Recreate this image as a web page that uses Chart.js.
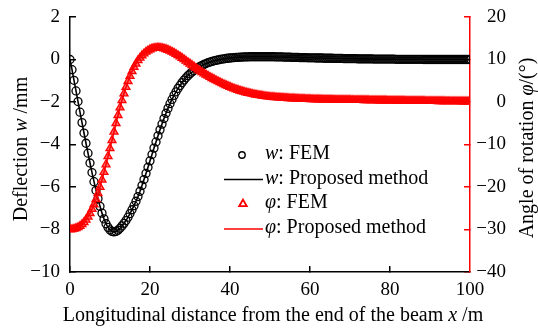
<!DOCTYPE html>
<html>
<head>
<meta charset="utf-8">
<title>Deflection and rotation along the beam</title>
<script src="https://cdn.jsdelivr.net/npm/chart.js@4.4.0/dist/chart.umd.min.js"></script>
<style>
  html, body { margin: 0; padding: 0; background: #fff; }
  #wrap { width: 538px; height: 329px; }
</style>
</head>
<body>
<div id="wrap"><canvas id="beamChart" width="538" height="329"></canvas></div>
<script>
// stations along the beam (m)
const stations = [
  0,0.5,1,1.5,2,2.5,3,3.5,4,4.5,5,5.5,6,6.5,7,7.5,8,8.5,9,9.5,
  10,10.5,11,11.5,12,12.5,13,13.5,14,14.5,15,15.5,16,16.5,17,17.5,18,18.5,19,19.5,
  20,20.5,21,21.5,22,22.5,23,23.5,24,24.5,25,25.5,26,26.5,27,27.5,28,28.5,29,29.5,
  30,30.5,31,31.5,32,32.5,33,33.5,34,34.5,35,35.5,36,36.5,37,37.5,38,38.5,39,39.5,
  40,40.5,41,41.5,42,42.5,43,43.5,44,44.5,45,45.5,46,46.5,47,47.5,48,48.5,49,49.5,
  50,50.5,51,51.5,52,52.5,53,53.5,54,54.5,55,55.5,56,56.5,57,57.5,58,58.5,59,59.5,
  60,60.5,61,61.5,62,62.5,63,63.5,64,64.5,65,65.5,66,66.5,67,67.5,68,68.5,69,69.5,
  70,70.5,71,71.5,72,72.5,73,73.5,74,74.5,75,75.5,76,76.5,77,77.5,78,78.5,79,79.5,
  80,80.5,81,81.5,82,82.5,83,83.5,84,84.5,85,85.5,86,86.5,87,87.5,88,88.5,89,89.5,
  90,90.5,91,91.5,92,92.5,93,93.5,94,94.5,95,95.5,96,96.5,97,97.5,98,98.5,99,99.5,
  100
];

// deflection w (mm)
const deflection = [
  0,-0.48,-0.98,-1.48,-1.98,-2.48,-2.97,-3.46,-3.94,-4.41,
  -4.87,-5.32,-5.75,-6.16,-6.55,-6.91,-7.23,-7.5,-7.73,-7.9,
  -8.02,-8.09,-8.11,-8.09,-8.03,-7.94,-7.83,-7.71,-7.58,-7.42,
  -7.25,-7.07,-6.88,-6.67,-6.45,-6.2,-5.93,-5.65,-5.36,-5.07,
  -4.77,-4.47,-4.17,-3.88,-3.59,-3.31,-3.04,-2.78,-2.53,-2.3,
  -2.08,-1.88,-1.69,-1.52,-1.36,-1.22,-1.09,-0.97,-0.86,-0.76,
  -0.67,-0.59,-0.52,-0.45,-0.39,-0.33,-0.28,-0.23,-0.19,-0.15,
  -0.12,-0.09,-0.06,-0.04,-0.02,0,0.02,0.03,0.05,0.06,
  0.07,
  0.08,0.09,0.1,0.1,0.11,0.11,0.12,0.12,0.12,0.13,
  0.13,0.13,0.13,0.13,0.13,0.13,0.13,0.13,0.13,0.13,
  0.13,0.13,0.12,0.12,0.12,0.12,0.11,0.11,0.11,0.11,
  0.1,0.1,0.1,0.1,0.09,0.09,0.09,0.09,0.08,0.08,
  0.08,0.08,0.07,0.07,0.07,0.07,0.06,0.06,0.06,0.06,
  0.06,0.05,0.05,0.05,0.05,0.05,0.04,0.04,0.04,0.04,
  0.04,0.04,0.04,0.03,0.03,0.03,0.03,0.03,0.03,0.03,
  0.03,0.02,0.02,0.02,0.02,0.02,0.02,0.02,0.02,0.02,
  0.02,0.02,0.01,0.01,0.01,0.01,0.01,0.01,0.01,0.01,
  0.01,0.01,0.01,0.01,0.01,0.01,0,0,0,0,
  0,0,0,0,0,0,0,0,0,0,
  0,0,0,0,0,0,0,0,0,0
];

// angle of rotation phi (degrees)
const rotation = [
  -30,-29.95,-29.85,-29.7,-29.5,-29.2,-28.8,-28.3,-27.7,-27,
  -26.2,-25.2,-24.1,-22.9,-21.5,-20,-18.3,-16.5,-14.7,-12.8,
  -10.9,
  -9,-7,-5,-3.1,-1.3,0.4,2,3.5,4.9,6.1,
  7.2,8.2,9,9.8,10.4,10.95,11.4,11.8,12.1,12.35,
  12.55,12.68,12.75,12.78,12.75,12.68,12.57,12.42,12.24,12.03,
  11.8,11.55,11.27,10.98,10.67,10.35,10.02,9.68,9.34,9,
  8.65,8.3,7.96,7.62,7.32,7,6.7,6.42,6.14,5.87,
  5.6,5.35,5.1,4.86,4.62,4.39,4.16,3.94,3.73,3.53,
  3.34,3.16,2.98,2.82,2.66,2.52,2.38,2.25,2.13,2.02,
  1.91,1.81,1.72,1.63,1.55,1.47,1.4,1.33,1.27,1.21,
  1.17,1.13,1.09,1.05,1.02,0.99,0.96,0.93,0.9,0.87,
  0.84,0.82,0.79,0.77,0.75,0.73,0.71,0.69,0.67,0.66,
  0.64,0.63,0.61,0.6,0.59,0.58,0.57,0.56,0.55,0.54,
  0.53,0.52,0.51,0.5,0.5,0.49,0.48,0.48,0.47,0.47,
  0.46,0.45,0.45,0.44,0.43,0.43,0.42,0.41,0.41,0.4,
  0.39,0.39,0.38,0.37,0.37,0.36,0.35,0.35,0.34,0.33,
  0.33,0.32,0.31,0.31,0.3,0.3,0.29,0.28,0.28,0.27,
  0.27,0.26,0.25,0.25,0.24,0.24,0.23,0.22,0.22,0.21,
  0.21,0.2,0.2,0.19,0.19,0.18,0.18,0.17,0.17,0.16,
  0.16,0.15,0.15,0.14,0.14,0.13,0.13,0.12,0.12,0.12
];

const xTicks = [0, 20, 40, 60, 80, 100];
const wTicks = [2, 0, -2, -4, -6, -8, -10];
const phiTicks = [20, 10, 0, -10, -20, -30, -40];

const seriesLabels = ['w: FEM', 'w: Proposed method', '\u03c6: FEM', '\u03c6: Proposed method'];

const FONT = '"Liberation Serif", "Times New Roman", serif';
const RED = '#ff0000';

const pts = (vals) => stations.map((x, i) => ({ x: x, y: vals[i] }));
const minus = (v) => (v < 0 ? '\u2212' + Math.abs(v) : String(v));
const setTicks = (list) => (scale) => { scale.ticks = list.map((v) => ({ value: v })); };
// fixed axis width; label overhang is handled by the layout padding instead
const fixWidth = (w) => (scale) => {
  scale.width = w;
  scale.paddingTop = 0;
  scale.paddingBottom = 0;
};

// writes a run of text pieces, italic where flagged
function drawRuns(ctx, runs, x, y, size, align) {
  let total = 0;
  runs.forEach((r) => {
    ctx.font = (r[1] ? 'italic ' : '') + size + 'px ' + FONT;
    total += ctx.measureText(r[0]).width;
  });
  let cx = align === 'left' ? x : x - total / 2;
  ctx.textAlign = 'left';
  runs.forEach((r) => {
    ctx.font = (r[1] ? 'italic ' : '') + size + 'px ' + FONT;
    ctx.fillText(r[0], cx, y);
    cx += ctx.measureText(r[0]).width;
  });
}

// split "w: FEM" into an italic symbol and the rest
const symbolRuns = (label) => [[label.charAt(0), true], [label.slice(1), false]];

const annotations = {
  id: 'annotations',
  afterDraw(chart) {
    const ctx = chart.ctx;
    ctx.save();
    ctx.fillStyle = '#000';
    ctx.textBaseline = 'alphabetic';

    // bottom title
    drawRuns(ctx, [['Longitudinal distance from the end of the beam ', false], ['x', true], [' /m', false]],
      273, 321, 20, 'center');

    // left title
    ctx.save();
    ctx.translate(27, 149);
    ctx.rotate(-Math.PI / 2);
    drawRuns(ctx, [['Deflection ', false], ['w', true], [' /mm', false]], 0, 0, 20, 'center');
    ctx.restore();

    // right title
    ctx.save();
    ctx.translate(533, 148);
    ctx.rotate(-Math.PI / 2);
    drawRuns(ctx, [['Angle of rotation ', false], ['\u03c6', true], ['/(\u00b0)', false]], 0, 0, 20, 'center');
    ctx.restore();

    // legend
    const rows = [155, 179.5, 204, 229];
    const mx = 243, lx0 = 224, lx1 = 263, tx = 265;
    ctx.lineWidth = 1.4;
    ctx.strokeStyle = '#000';
    ctx.beginPath();
    ctx.arc(mx - 1, rows[0], 3.2, 0, Math.PI * 2);
    ctx.stroke();

    ctx.lineWidth = 1.6;
    ctx.beginPath();
    ctx.moveTo(lx0, rows[1]);
    ctx.lineTo(lx1, rows[1]);
    ctx.stroke();

    ctx.strokeStyle = RED;
    ctx.fillStyle = '#fff';
    ctx.lineWidth = 1.8;
    const r = 4.4;
    ctx.beginPath();
    ctx.moveTo(mx, rows[2] - r);
    ctx.lineTo(mx + r * 0.866, rows[2] + r / 2);
    ctx.lineTo(mx - r * 0.866, rows[2] + r / 2);
    ctx.closePath();
    ctx.fill();
    ctx.stroke();

    ctx.lineWidth = 1.6;
    ctx.beginPath();
    ctx.moveTo(lx0, rows[3]);
    ctx.lineTo(lx1, rows[3]);
    ctx.stroke();

    ctx.fillStyle = '#000';
    ctx.textBaseline = 'middle';
    seriesLabels.forEach((label, i) => {
      drawRuns(ctx, symbolRuns(label), tx, rows[i] - 1, 20, 'left');
    });
    ctx.restore();
  }
};

Chart.defaults.font.family = FONT;
Chart.defaults.color = '#000';

new Chart(document.getElementById('beamChart'), {
  type: 'line',
  data: {
    datasets: [
      {
        label: seriesLabels[0],
        data: pts(deflection),
        yAxisID: 'yW',
        showLine: false,
        pointStyle: 'circle',
        pointRadius: 4,
        pointBorderWidth: 1.3,
        pointBorderColor: '#000',
        pointBackgroundColor: 'rgba(0,0,0,0)',
        order: 3
      },
      {
        label: seriesLabels[1],
        data: pts(deflection),
        yAxisID: 'yW',
        borderColor: '#000',
        borderWidth: 1.6,
        pointRadius: 0,
        order: 4
      },
      {
        label: seriesLabels[2],
        data: pts(rotation),
        yAxisID: 'yPhi',
        showLine: false,
        pointStyle: 'triangle',
        pointRadius: 4.6,
        pointBorderWidth: 1.3,
        pointBorderColor: RED,
        pointBackgroundColor: 'rgba(255,0,0,0.55)',
        order: 1
      },
      {
        label: seriesLabels[3],
        data: pts(rotation),
        yAxisID: 'yPhi',
        borderColor: RED,
        borderWidth: 1.6,
        pointRadius: 0,
        order: 2
      }
    ]
  },
  options: {
    responsive: false,
    animation: false,
    events: [],
    layout: { padding: { top: 17, right: 32, bottom: 0, left: 0 } },
    plugins: { legend: { display: false }, tooltip: { enabled: false } },
    scales: {
      x: {
        type: 'linear',
        position: 'bottom',
        min: 0,
        max: 100,
        afterBuildTicks: setTicks(xTicks),
        afterFit: (s) => { s.height = 57; },
        border: { color: '#000', width: 1.5 },
        grid: {
          drawOnChartArea: false,
          tickLength: -6,
          lineWidth: 1.5,
          color: (c) => (c.tick && c.tick.value === 100 ? 'rgba(0,0,0,0)' : '#000')
        },
        ticks: { font: { size: 19 }, color: '#000', padding: 13, maxRotation: 0 }
      },
      yW: {
        type: 'linear',
        position: 'left',
        min: -10,
        max: 2,
        afterBuildTicks: setTicks(wTicks),
        afterFit: fixWidth(70),
        border: { color: '#000', width: 1.5 },
        grid: { drawOnChartArea: false, tickLength: -6, lineWidth: 1.5, color: '#000' },
        ticks: { font: { size: 19 }, color: '#000', padding: 16, callback: minus }
      },
      yPhi: {
        type: 'linear',
        position: 'right',
        min: -40,
        max: 20,
        afterBuildTicks: setTicks(phiTicks),
        afterFit: fixWidth(36),
        border: { color: RED, width: 1.5 },
        grid: { drawOnChartArea: false, tickLength: -6, lineWidth: 1.5, color: RED },
        ticks: { font: { size: 19 }, color: '#000', crossAlign: 'far', callback: minus }
      }
    }
  },
  plugins: [annotations]
});
</script>
</body>
</html>
